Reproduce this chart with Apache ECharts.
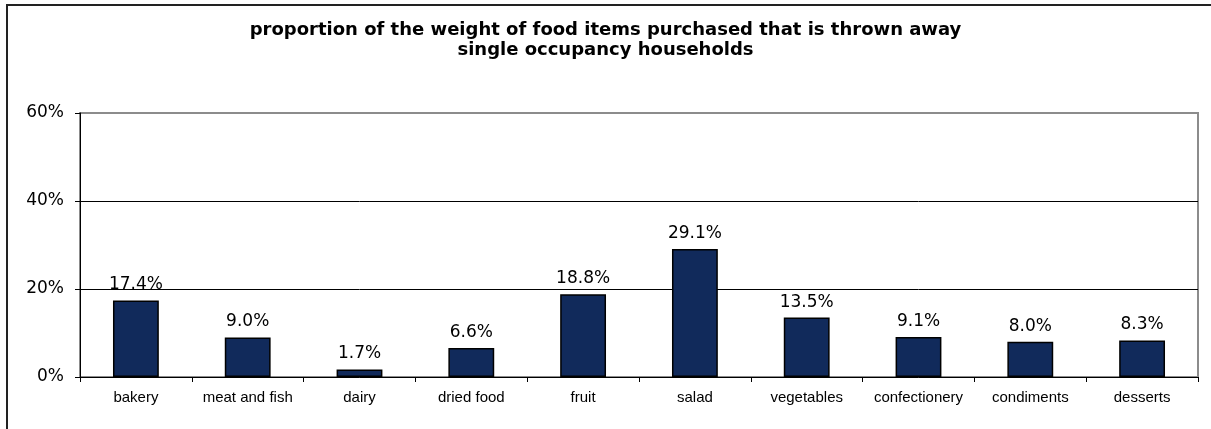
<!DOCTYPE html>
<html><head><meta charset="utf-8">
<script src="https://cdn.jsdelivr.net/npm/echarts@6/dist/echarts.min.js"></script>
<style>html,body{margin:0;padding:0;background:#fff;overflow:hidden}#c{width:1211px;height:429px}</style>
</head><body><div id="c"></div>
<script>
const titleLines = ['proportion of the weight of food items purchased that is thrown away', 'single occupancy households'];
const categories = ['bakery','meat and fish','dairy','dried food','fruit','salad','vegetables','confectionery','condiments','desserts'];
const values = [17.4, 9.0, 1.7, 6.6, 18.8, 29.1, 13.5, 9.1, 8.0, 8.3];
const yTicks = [0, 20, 40, 60];

const chart = echarts.init(document.getElementById('c'), null, {renderer:'canvas'});
chart.setOption({
  animation:false,
  backgroundColor:'#fff',
  title:{
    text: titleLines.join('\n'), left:'center', top:15,
    textStyle:{fontFamily:'DejaVu Sans', fontWeight:'bold', fontSize:18, lineHeight:20, color:'#000'}
  },
  graphic:[
    {type:'line', shape:{x1:6,y1:5,x2:1220,y2:5}, style:{stroke:'#222', lineWidth:2}, silent:true},
    {type:'line', shape:{x1:7,y1:4,x2:7,y2:440}, style:{stroke:'#222', lineWidth:2}, silent:true}
  ],
  grid:{left:80, right:13, top:113, bottom:52, show:true, borderColor:'#8c8c8c', borderWidth:2},
  xAxis:{
    type:'category', data:categories,
    axisLine:{lineStyle:{color:'#000', width:1}},
    axisTick:{show:true, alignWithLabel:false, length:5, lineStyle:{color:'#000'}},
    axisLabel:{fontFamily:'Liberation Sans', fontSize:15, color:'#000', margin:13, interval:0}
  },
  yAxis:{
    type:'value', min:yTicks[0], max:yTicks[yTicks.length-1], interval:20,
    axisLine:{show:true, lineStyle:{color:'#000', width:1}},
    axisTick:{show:true, length:5, lineStyle:{color:'#000'}},
    axisLabel:{formatter:'{value}%', fontFamily:'DejaVu Sans', fontSize:17, color:'#000', margin:16},
    splitLine:{show:true, showMinLine:false, showMaxLine:false, lineStyle:{color:'#000', width:1}}
  },
  series:[{
    type:'bar', data:values, barWidth:'41%',
    itemStyle:{color:'#112a5b', borderColor:'#000', borderWidth:1.5},
    label:{show:true, position:'top', distance:7, formatter:p=>p.value.toFixed(1)+'%',
      fontFamily:'DejaVu Sans', fontSize:17, color:'#000'}
  }]
});
</script></body></html>
